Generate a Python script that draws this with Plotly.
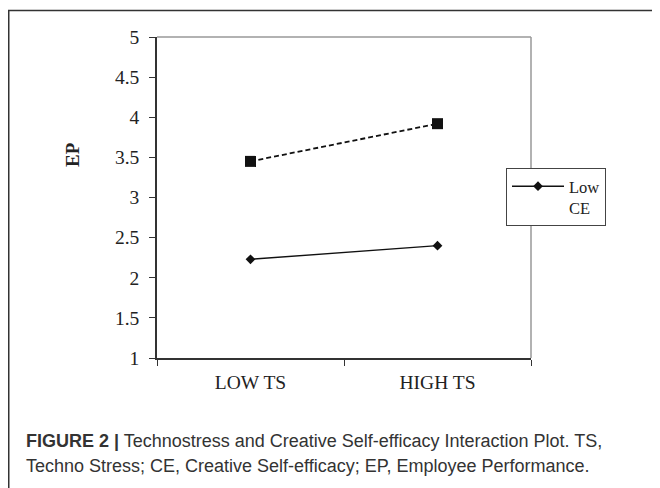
import plotly.graph_objects as go

categories = ["LOW TS", "HIGH TS"]
low_ce = [2.23, 2.40]
high_ce = [3.45, 3.92]
y_ticks = [1, 1.5, 2, 2.5, 3, 3.5, 4, 4.5, 5]
y_tick_labels = ["1", "1.5", "2", "2.5", "3", "3.5", "4", "4.5", "5"]

W, H = 660, 488
OFF = 8  # browser body margin shifts the figure by this much
L, R, T, B = 157 - OFF, 531 - OFF, 37 - OFF, 358 - OFF
pw, ph = R - L, B - T

def px(x):
    return (x - OFF - L) / pw

def py(y):
    return (B - (y - OFF)) / ph

serif = "Liberation Serif, Times New Roman, serif"
sans = "Liberation Sans, Arial, sans-serif"

fig = go.Figure()
fig.add_trace(go.Scatter(
    x=categories, y=low_ce, name="Low<br>CE", mode="lines+markers",
    line=dict(color="#111111", width=1.4),
    marker=dict(symbol="diamond", size=7.5, color="#111111"),
    showlegend=True,
))
fig.add_trace(go.Scatter(
    x=categories, y=high_ce, name="High CE", mode="lines+markers",
    line=dict(color="#111111", width=1.8, dash="5px,3px"),
    marker=dict(symbol="square", size=11, color="#111111"),
    showlegend=False,
))

fig.update_layout(
    width=W, height=H,
    margin=dict(l=L, r=W - R, t=T, b=H - B, pad=0),
    paper_bgcolor="white", plot_bgcolor="white",
    font=dict(family=serif, size=19, color="#222222"),
    xaxis=dict(
        type="category", range=[-0.5, 1.5], tickson="boundaries",
        ticks="outside", ticklen=6, tickcolor="#333333", tickwidth=1,
        showline=True, linecolor="#333333", linewidth=1.5,
        showgrid=False, zeroline=False, ticklabelstandoff=6,
        tickfont=dict(family=serif, size=19.5, color="#222222"),
        fixedrange=True,
    ),
    yaxis=dict(
        range=[1, 5], tickvals=y_ticks, ticktext=y_tick_labels,
        ticks="outside", ticklen=6, tickcolor="#333333", tickwidth=1,
        showline=True, linecolor="#333333", linewidth=1.5,
        showgrid=False, zeroline=False, ticklabelstandoff=6,
        tickfont=dict(family=serif, size=19.5, color="#222222"),
        fixedrange=True,
    ),
    legend=dict(
        x=px(506), y=py(168), xanchor="left", yanchor="top",
        bgcolor="white", bordercolor="#444444", borderwidth=1,
        font=dict(family=serif, size=16.5, color="#222222"),
        valign="top", tracegroupgap=0, itemwidth=52,
    ),
    showlegend=True,
)

shapes = [
    dict(type="line", xref="paper", yref="paper", x0=0, x1=1, y0=1, y1=1,
         line=dict(color="#999999", width=1.5), layer="below"),
    dict(type="line", xref="paper", yref="paper", x0=1, x1=1, y0=0, y1=1,
         line=dict(color="#999999", width=1.5), layer="below"),
    dict(type="rect", xref="paper", yref="paper",
         x0=px(8.75), x1=px(700), y0=py(10.5), y1=py(540),
         line=dict(color="#333333", width=1.5), fillcolor="rgba(0,0,0,0)"),
]
fig.update_layout(shapes=shapes)

annotations = [
    dict(text="<b>EP</b>", xref="paper", yref="paper", x=px(72), y=py(155),
         xanchor="center", yanchor="middle", textangle=-90, showarrow=False,
         font=dict(family=serif, size=19, color="#222222")),
    dict(text="<b>FIGURE 2 |</b> Technostress and Creative Self-efficacy Interaction Plot. TS,",
         xref="paper", yref="paper", x=px(24), y=py(441),
         xanchor="left", yanchor="middle", showarrow=False,
         font=dict(family=sans, size=18, color="#333333")),
    dict(text="Techno Stress; CE, Creative Self-efficacy; EP, Employee Performance.",
         xref="paper", yref="paper", x=px(24), y=py(466),
         xanchor="left", yanchor="middle", showarrow=False,
         font=dict(family=sans, size=18, color="#333333")),
]
fig.update_layout(annotations=annotations)

fig.write_html("out.html")
